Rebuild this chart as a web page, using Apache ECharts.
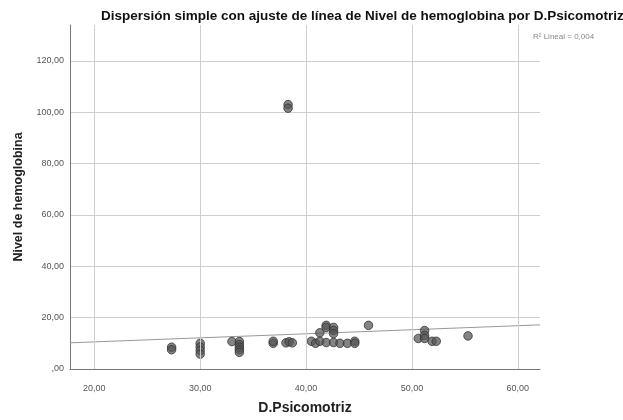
<!DOCTYPE html>
<html>
<head>
<meta charset="utf-8">
<script src="https://cdn.jsdelivr.net/npm/echarts@6/dist/echarts.min.js"></script>
<style>
  html, body { margin: 0; padding: 0; background: #fff; }
  #chart { width: 623px; height: 420px; }
</style>
</head>
<body>
<div id="chart"></div>
<script>
// D.Psicomotriz (x) y Nivel de hemoglobina (y)
var psico = [27.3, 27.3, 30.0, 30.0, 30.0, 30.0, 33.0, 33.7, 33.7, 33.7, 33.7, 33.7,
  36.9, 36.9, 38.1, 38.4, 38.7, 38.3, 38.3, 40.5, 40.9, 41.3, 41.3, 41.9, 41.9, 41.9,
  42.6, 42.6, 42.6, 42.6, 43.2, 43.9, 44.6, 44.6, 45.9, 50.6, 51.2, 51.2, 51.2, 51.9,
  52.3, 55.3];
var hemo = [8.5, 7.5, 10.0, 8.6, 7.2, 5.8, 10.7, 10.7, 9.5, 8.5, 7.5, 6.5,
  10.0, 10.8, 10.2, 10.6, 10.2, 103.0, 101.6, 10.8, 10.0, 14.1, 10.8, 17.0, 16.2, 10.3,
  16.2, 15.0, 13.8, 10.3, 10.0, 10.0, 10.8, 10.0, 17.0, 11.9, 15.0, 13.1, 11.9, 10.8,
  10.8, 12.9];
// recta de ajuste (extremos del eje)
var fitX = [17.7, 62.1];
var fitY = [10.2, 17.2];
var xTicks = [20, 30, 40, 50, 60];
var yTicks = [0, 20, 40, 60, 80, 100, 120];

var fmt = function (v) {
  var s = v.toFixed(2).replace('.', ',');
  return s.indexOf('0,') === 0 ? s.substring(1) : s;
};

var points = psico.map(function (x, i) { return [x, hemo[i]]; });
var fit = fitX.map(function (x, i) { return [x, fitY[i]]; });

var chart = echarts.init(document.getElementById('chart'));
var option = {
  backgroundColor: '#fff',
  animation: false,
  textStyle: { fontFamily: 'Liberation Sans' },
  title: [{
    text: 'Dispersión simple con ajuste de línea de Nivel de hemoglobina por D.Psicomotriz',
    left: 96, top: 4,
    textStyle: { fontSize: 13.5, fontWeight: 'bold', color: '#111' }
  }, {
    text: 'R² Lineal = 0,004',
    left: 528, top: 28,
    textStyle: { fontSize: 8, fontWeight: 'normal', color: '#888' }
  }],
  grid: { left: 70, right: 83, top: 25, bottom: 44 },
  xAxis: {
    type: 'value',
    min: 17.7, max: 62.1,
    name: 'D.Psicomotriz',
    nameLocation: 'middle', nameGap: 32,
    nameTextStyle: { fontSize: 14, fontWeight: 'bold', color: '#222' },
    axisLine: { show: true, lineStyle: { color: '#777', width: 1 } },
    axisTick: { show: false },
    axisLabel: { show: false },
    splitLine: { show: false }
  },
  yAxis: {
    type: 'value',
    min: 0, max: 134, interval: 20,
    name: 'Nivel de hemoglobina',
    nameLocation: 'middle', nameGap: 45,
    nameTextStyle: { fontSize: 12.5, fontWeight: 'bold', color: '#222' },
    axisLine: { show: true, lineStyle: { color: '#777', width: 1 } },
    axisTick: { show: false },
    axisLabel: {
      fontSize: 9, color: '#555', margin: 6,
      formatter: function (v) { return yTicks.indexOf(v) >= 0 ? fmt(v) : ''; }
    },
    splitLine: { show: true, showMinLine: false, showMaxLine: false, lineStyle: { color: '#cfcfcf', width: 1 } }
  },
  series: [{
    name: 'ajuste',
    type: 'line',
    data: fit,
    symbol: 'none',
    lineStyle: { color: '#999', width: 1 },
    z: 2,
    markLine: {
      silent: true,
      symbol: ['none', 'none'],
      lineStyle: { color: '#cfcfcf', width: 1, type: 'solid' },
      label: {
        show: true, position: 'start', distance: 9,
        padding: [6, 0, 0, 0],
        fontSize: 9, color: '#555',
        formatter: function (p) { return fmt(p.value); }
      },
      data: xTicks.map(function (v) { return { xAxis: v }; })
    }
  }, {
    name: 'datos',
    type: 'scatter',
    data: points,
    symbolSize: 8.5,
    itemStyle: { color: 'rgba(85,85,85,0.9)', borderColor: '#333', borderWidth: 1 },
    z: 3
  }]
};
chart.setOption(option);
</script>
</body>
</html>
